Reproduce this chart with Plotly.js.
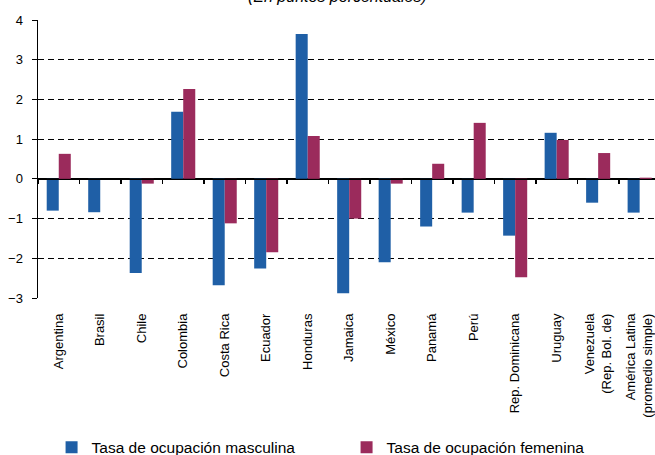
<!DOCTYPE html>
<html>
<head>
<meta charset="utf-8">
<script src="https://cdn.plot.ly/plotly-3.0.1.min.js"></script>
<style>html,body{margin:0;padding:0;background:#fff;}#chart{width:655px;height:455px;}</style>
</head>
<body>
<div id="chart"></div>
<script>
const categories = ["Argentina", "Brasil", "Chile", "Colombia", "Costa Rica", "Ecuador", "Honduras", "Jamaica", "México", "Panamá", "Perú", "Rep. Dominicana", "Uruguay", "Venezuela<br>(Rep. Bol. de)", "América Latina<br>(promedio simple)"];
const masculina = [-0.80, -0.84, -2.37, 1.69, -2.68, -2.26, 3.65, -2.88, -2.10, -1.20, -0.85, -1.43, 1.16, -0.60, -0.85];
const femenina = [0.63, null, -0.12, 2.26, -1.12, -1.85, 1.08, -1.00, -0.12, 0.38, 1.41, -2.48, 0.98, 0.65, 0.03];
const seriesNames = ["Tasa de ocupación masculina", "Tasa de ocupación femenina"];
const yTicks = [-3, -2, -1, 0, 1, 2, 3, 4];
const titleText = "(En puntos porcentuales)";

const FONT = "Liberation Sans, Arial, Helvetica, sans-serif";
const boundaries = categories.slice(0, -1).map((_, i) => i + 0.5).concat([-0.5]);

const traces = [
  {type: "bar", name: seriesNames[0], x: categories, y: masculina, marker: {color: "#1f5fa6"}, hoverinfo: "skip"},
  {type: "bar", name: seriesNames[1], x: categories, y: femenina, marker: {color: "#9b2b5c"}, hoverinfo: "skip"},
  {type: "scatter", x: [], y: [], xaxis: "x2", yaxis: "y", showlegend: false, hoverinfo: "skip"}
];

const layout = {
  width: 655, height: 455,
  margin: {l: 38, r: 0, t: 20, b: 157, pad: 0, autoexpand: false},
  paper_bgcolor: "#fff", plot_bgcolor: "#fff",
  font: {family: FONT, size: 13, color: "#000"},
  barmode: "group", bargap: 0.42, bargroupgap: 0,
  showlegend: true,
  legend: {orientation: "h", x: 0.022, xanchor: "left", y: -0.477, yanchor: "top",
           font: {family: FONT, size: 15.5, color: "#000"}, entrywidth: 250, entrywidthmode: "pixels",
           bgcolor: "rgba(0,0,0,0)", borderwidth: 0, traceorder: "normal"},
  xaxis: {type: "category", range: [-0.5, 14.37], tickangle: -90, ticks: "", showline: false,
          showgrid: false, zeroline: false, tickfont: {family: FONT, size: 13, color: "#000"},
          ticklabelstandoff: 12, automargin: false, fixedrange: true},
  xaxis2: {overlaying: "x", anchor: "free", position: 3/7, type: "linear", range: [-0.5, 14.37],
           tickmode: "array", tickvals: boundaries, ticks: "outside", ticklen: 4, tickwidth: 1.5, tickcolor: "#000",
           showticklabels: false, showline: true, linecolor: "#000", linewidth: 1.5, showgrid: false, zeroline: false},
  yaxis: {range: [-3, 4], tickmode: "array", tickvals: yTicks, ticks: "outside", ticklen: 5, tickwidth: 1, tickcolor: "#000",
          showline: true, linecolor: "#000", linewidth: 1.5, showgrid: true, gridcolor: "#000", gridwidth: 1,
          griddash: "6px,4px", zeroline: true, zerolinecolor: "#000", zerolinewidth: 1.5, automargin: false,
          ticklabelstandoff: 6, tickfont: {family: FONT, size: 13, color: "#000"}, fixedrange: true},
  annotations: [{text: "<i>" + titleText + "</i>", xref: "paper", yref: "paper", x: 0.486, y: 1.085,
                 xanchor: "center", yanchor: "middle", showarrow: false,
                 font: {family: FONT, size: 16, color: "#000"}}]
};

Plotly.newPlot("chart", traces, layout, {displayModeBar: false, staticPlot: true});
</script>
</body>
</html>
